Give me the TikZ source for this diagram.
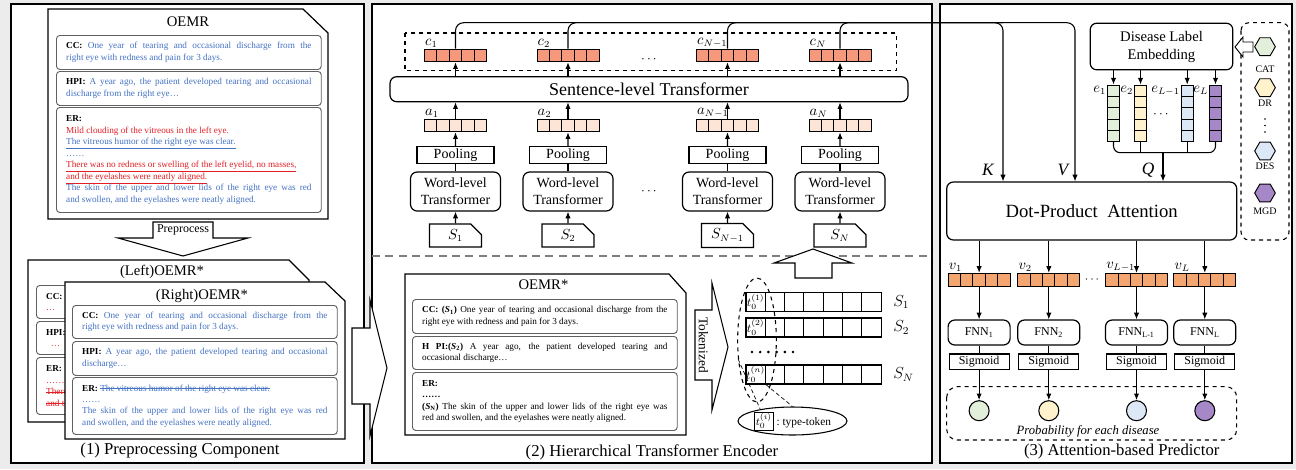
\documentclass[tikz,border=0pt]{standalone}
\usepackage{fontspec}
\setmainfont{Liberation Serif}
\usepackage{amsmath}
\usepackage{amssymb}
\usepackage{tikz}
\usetikzlibrary{arrows,arrows.meta,shapes,positioning}

\definecolor{bggray}{RGB}{236,236,236}
\definecolor{boxgray}{RGB}{96,96,96}
\definecolor{txtblue}{RGB}{68,114,196}
\definecolor{txtred}{RGB}{228,30,36}
\definecolor{cfill}{RGB}{245,152,124}
\definecolor{afill}{RGB}{252,228,214}
\definecolor{vfill}{RGB}{244,166,112}
\definecolor{dgreen}{RGB}{226,239,218}
\definecolor{dyellow}{RGB}{255,242,204}
\definecolor{dblue}{RGB}{221,232,246}
\definecolor{dpurple}{RGB}{166,136,200}

\newsavebox{\strkbox}
\newcommand{\strk}[1]{\sbox{\strkbox}{#1}\rlap{\rule[0.55ex]{\wd\strkbox}{0.35pt}}\usebox{\strkbox}}

\begin{document}
\begin{tikzpicture}[x=0.75pt, y=-0.75pt, >={Latex[length=5pt,width=4pt]}, line width=0.8pt,
    panel/.style={draw, fill=white, line width=1pt},
    doc/.style={draw, fill=white, line width=0.9pt},
    blockarrow/.style={draw, fill=white, line width=0.8pt},
    oemrbox/.style={draw=boxgray, line width=0.7pt, rounded corners=2.5pt, fill=white,
        anchor=north west, align=justify, text width=184pt, inner xsep=7.3pt, inner ysep=1pt,
        text=txtblue, font=\fontsize{6.9}{8.6}\selectfont},
    plainbox/.style={oemrbox, text=black},
    rbox/.style={draw, rounded corners=5pt, fill=white, align=center, inner sep=1pt, line width=0.9pt},
    sqbox/.style={draw, fill=white, inner sep=0pt, line width=0.9pt},
    cell/.style={draw, minimum width=9.3pt, minimum height=9.5pt, inner sep=0pt, line width=0.7pt},
    ecell/.style={draw, minimum width=8.7pt, minimum height=8.5pt, inner sep=0pt, line width=0.7pt},
    tcell/.style={draw, minimum width=14.5pt, minimum height=14.25pt, inner sep=0pt, line width=0.8pt},
    hexa/.style={draw, regular polygon, regular polygon sides=6, minimum size=15.5pt, inner sep=0pt, line width=0.7pt},
    prob/.style={draw, circle, minimum size=15pt, inner sep=0pt, line width=0.8pt},
    lab/.style={inner sep=0.5pt, font=\fontsize{10.5}{11}\selectfont},
    capt/.style={font=\fontsize{12.5}{14}\selectfont},
    doctitle/.style={font=\fontsize{11}{13}\selectfont},
    small/.style={font=\fontsize{9}{10}\selectfont}]

    \fill[bggray] (0,0) rectangle (1296,469);
    \useasboundingbox (0,0) rectangle (1296,469);

    % panels
    \draw[panel] (11,4) rectangle (364,463);
    \draw[panel] (372,4) rectangle (932,463);
    \draw[panel] (940,4) rectangle (1292,463);

    % (1) preprocessing component
    \draw[doc] (48,9) -- (303,9) -- (328,33) -- (328,219) -- (48,219) -- cycle;
    \node[doctitle] (oemr) at (188,22) {OEMR};
    \node[oemrbox, minimum height=25.5pt] (cc) at (56,35) {\textbf{\color{black}CC:} One year of tearing and occasional discharge from the \linebreak right eye with redness and pain for 3 days.};
    \node[oemrbox, minimum height=25.5pt] (hpi) at (56,71) {\textbf{\color{black}HPI:} A year ago, the patient developed tearing and occasional \linebreak discharge from the right eye…};
    \node[oemrbox, minimum height=78.75pt] (er) at (56,107) {\textbf{\color{black}ER:}\\
        {\color{txtred}Mild clouding of the vitreous in the left eye.}\\
        \underline{The vitreous humor of the right eye was clear.}\\
        ……\\
        {\color{txtred}\underline{There was no redness or swelling of the left eyelid, no masses,}}\\
        {\color{txtred}\underline{and the eyelashes were neatly aligned.}}\\
        The skin of the upper and lower lids of the right eye was red \linebreak and swollen, and the eyelashes were neatly aligned.};

    \draw[blockarrow] (153,222) -- (213,222) -- (213,238) -- (248,238) -- (183,256) -- (118,238) -- (153,238) -- cycle;
    \node[small] (prep) at (183,230) {Preprocess};

    \draw[doc] (28,260) -- (289,260) -- (309,280) -- (309,422) -- (28,422) -- cycle;
    \node[doctitle] (leftT) at (162,272) {(Left)OEMR*};
    \node[oemrbox, minimum height=24.75pt] (lcc) at (36,285) {\textbf{\color{black}CC:}\\ \color{txtred}…};
    \node[oemrbox, minimum height=24.75pt] (lhpi) at (36,321) {\textbf{\color{black}HPI:}\\ \color{txtred}\ \ …};
    \node[oemrbox, minimum height=42.75pt] (ler) at (36,357) {\textbf{\color{black}ER:}\\ \color{txtred}……\\ \strk{There}\\ \strk{and the}};

    \draw[doc] (65,282) -- (325,282) -- (345,301) -- (345,439) -- (65,439) -- cycle;
    \node[doctitle] (rightT) at (202,296) {(Right)OEMR*};
    \node[oemrbox, minimum height=24.75pt] (rcc) at (72,305) {\textbf{\color{black}CC:} One year of tearing and occasional discharge from the \linebreak right eye with redness and pain for 3 days.};
    \node[oemrbox, minimum height=25.5pt] (rhpi) at (72,341) {\textbf{\color{black}HPI:} A year ago, the patient developed tearing and occasional \linebreak discharge…};
    \node[oemrbox, minimum height=42.75pt] (rer) at (72,377) {\textbf{\color{black}ER:} \strk{The vitreous humor of the right eye was clear.}\\ ……\\ The skin of the upper and lower lids of the right eye was red \linebreak and swollen, and the eyelashes were neatly aligned.};

    \node[capt] (cap1) at (180,451) {(1) Preprocessing Component};

    \draw[blockarrow] (352,328) -- (370,328) -- (370,300) -- (387,368) -- (370,436) -- (370,404) -- (352,404) -- cycle;

    % (2) hierarchical transformer encoder
    \draw[dashed] (405,33) rectangle (896.5,70.7);
    \node[rbox, minimum width=388.5pt, minimum height=18.75pt, font=\fontsize{13.5}{15}\selectfont] (sent) at (649,89.2) {Sentence-level Transformer};

    \foreach \k/\x/\m in {1/455.5/1, 2/568/2, N1/727.5/N-1, N/840/N} {
        \foreach \i in {0,...,4} {
            \node[cell, fill=cfill] (c\k-\i) at (\x-24.8+12.4*\i, 55.5) {};
            \node[cell, fill=afill] (a\k-\i) at (\x-24.8+12.4*\i, 125.5) {};
        }
        \node[lab, anchor=south west] (lc\k) at (c\k-0.north west) {$c_{\m}$};
        \node[lab, anchor=south west] (la\k) at (a\k-0.north west) {$a_{\m}$};
        \node[sqbox, minimum width=57.75pt, minimum height=12.5pt, font=\fontsize{10.5}{12}\selectfont] (pool\k) at (\x,155) {Pooling};
        \node[rbox, minimum width=67.5pt, minimum height=29.25pt, font=\fontsize{10.5}{12.5}\selectfont] (word\k) at (\x,191.5) {Word-level\\Transformer};
        \node[sqbox, chamfered rectangle, chamfered rectangle corners=north east, chamfered rectangle sep=4pt, minimum width=39pt, minimum height=14.25pt, font=\fontsize{10.5}{12}\selectfont] (s\k) at (\x,235.5) {$S_{\m}$};
        \draw[->] (s\k) -- (word\k);
        \draw (word\k) -- (pool\k);
        \draw[->] (pool\k) -- (a\k-2);
        \draw[->] (a\k-2) -- (sent.south -| a\k-2);
        \draw[->] (sent.north -| c\k-2) -- (c\k-2);
    }
    \node (cdots) at (650,60) {$\cdots$};
    \node (wdots) at (650,192) {$\cdots$};

    \draw[dashed, gray, line width=1pt, dash pattern=on 6pt off 4pt] (372,256) -- (932,256);
    \draw[blockarrow] (795,278) -- (832,278) -- (832,263) -- (852,263) -- (813,249) -- (774,263) -- (795,263) -- cycle;

    \draw[doc] (405,274) -- (669,274) -- (686,293) -- (686,435) -- (405,435) -- cycle;
    \node[doctitle] (oemrs) at (543.5,285) {OEMR*};
    \node[plainbox, minimum height=25.5pt] (scc) at (412,299) {\textbf{CC: (\textit{S}\textsubscript{1})} One year of tearing and occasional discharge from the \linebreak right eye with redness and pain for 3 days.};
    \node[plainbox, minimum height=24.75pt] (shpi) at (412,336) {\textbf{H PI:(\textit{S}\textsubscript{2})} A year ago, the patient developed tearing and \linebreak occasional discharge…};
    \node[plainbox, minimum height=43.5pt] (ser) at (412,372) {\textbf{ER:}\\ \textbf{……}\\ \textbf{(\textit{S}\textsubscript{N})} The skin of the upper and lower lids of the right eye was \linebreak red and swollen, and the eyelashes were neatly aligned.};

    \draw[blockarrow] (695,310) -- (712,310) -- (712,283) -- (728,347) -- (712,410) -- (712,380) -- (695,380) -- cycle;
    \node[rotate=-90, font=\fontsize{10}{11}\selectfont] (tok) at (703.5,345) {Tokenized};

    \foreach \r/\y/\t in {1/302.2/1, 2/327.5/2, N/374.5/n} {
        \foreach \i in {0,...,6}
            \node[tcell] (r\r-\i) at (755.65+19.3*\i, \y) {};
        \node[font=\fontsize{9}{10}\selectfont, inner sep=0pt] (t\r) at (r\r-0) {$t_0^{(\t)}$};
        \node[right=5pt of r\r-6, font=\fontsize{12}{13}\selectfont] (sl\r) {$S_{\r}$};
    }
    \foreach \i in {0,...,5}
        \fill (752+8.2*\i, 352) circle (1.1pt);
    \node[draw, dashed, ellipse, minimum width=29pt, minimum height=93pt] (tokell) at (757,340) {};
    \node[draw, ellipse, minimum width=80pt, minimum height=21pt, inner sep=0pt, font=\fontsize{8.5}{9}\selectfont] (legend) at (792.5,421) {{\setlength{\fboxsep}{1pt}\fbox{$t_0^{(i)}$}}\ :\ type-token};
    \draw[densely dashed, line width=0.5pt] (tokell.225) -- (legend.160);
    \draw[densely dashed, line width=0.5pt] (rN-0.south east) -- (legend.north);

    \node[capt] (cap2) at (652,452) {(2) Hierarchical Transformer Encoder};

    % (3) attention-based predictor
    \node[rbox, minimum width=107pt, minimum height=35pt, font=\fontsize{11}{13.5}\selectfont] (dle) at (1161.5,46.5) {Disease Label\\Embedding};
    \node[rbox, minimum width=217.5pt, minimum height=43.5pt, font=\fontsize{14}{16}\selectfont] (attn) at (1091.7,211) {Dot-Product\ \ Attention};

    \foreach \k/\x/\col/\m in {1/1113.5/dgreen/1, 2/1140.5/dyellow/2, L1/1187.2/dblue/L-1, L/1215.5/dpurple/L} {
        \foreach \i in {0,...,4}
            \node[ecell, fill=\col] (e\k-\i) at (\x, 90.67+11.33*\i) {};
        \node[lab, anchor=east] (le\k) at (e\k-0.west) {$e_{\m}$};
        \draw[->] (dle.south -| e\k-0) -- (e\k-0);
    }
    \node (edots) at (1162,115) {$\cdots$};
    \coordinate (qm) at (1163,152.7);
    \draw[rounded corners=5pt] (e1-4.south) |- (qm) -| (eL-4.south);
    \draw (e2-4.south) -- (e2-4.south |- qm);
    \draw (eL1-4.south) -- (eL1-4.south |- qm);
    \draw[->] (qm) -- (attn.north -| qm);

    \node[font=\fontsize{13}{15}\selectfont\itshape] (klab) at (988,170) {K};
    \node[font=\fontsize{13}{15}\selectfont\itshape] (vlab) at (1063,170) {V};
    \node[font=\fontsize{13}{15}\selectfont\itshape] (qlab) at (1148,170) {Q};

    \draw[dashed, rounded corners=6pt] (1241,22.7) rectangle (1289,240);
    \foreach \d/\y/\ly/\col/\t in {cat/46.7/69/dgreen/CAT, dr/87.7/103/dyellow/DR, des/151/166.7/dblue/DES, mgd/193/211.7/dpurple/MGD} {
        \node[hexa, fill=\col] (\d) at (1265,\y) {};
        \node[font=\fontsize{7.5}{8}\selectfont] (l\d) at (1265,\ly) {\t};
    }
    \foreach \i in {0,1,2}
        \fill (1265, 119+6.5*\i) circle (0.7pt);
    \draw[blockarrow, line width=0.7pt] (1235,47) -- (1243,37) -- (1243,42) -- (1253,42) -- (1253,52) -- (1243,52) -- (1243,57) -- cycle;

    \foreach \k/\x/\m/\col in {1/979.1/1/dgreen, 2/1048.8/2/dyellow, L1/1136.5/L-1/dblue, L/1204.8/L/dpurple} {
        \foreach \i in {0,...,4}
            \node[cell, fill=vfill] (v\k-\i) at (\x-24.66+12.33*\i, 279.7) {};
        \node[lab, anchor=south west] (lv\k) at (v\k-0.north west) {$v_{\m}$};
        \node[rbox, minimum width=46.5pt, minimum height=18.75pt, small] (fnn\k) at (\x,332.5) {FNN\textsubscript{\m}};
        \node[sqbox, minimum width=45pt, minimum height=11.5pt, small] (sig\k) at (\x,361.7) {Sigmoid};
        \node[prob, fill=\col] (p\k) at (\x,410.7) {};
        \draw[->] (attn.south -| v\k-2) -- (v\k-2);
        \draw[->] (v\k-2) -- (fnn\k);
        \draw (fnn\k) -- (sig\k);
        \draw[->] (sig\k) -- (p\k);
    }
    \node[font=\fontsize{9}{10}\selectfont] (vdots) at (1093,280) {$\cdots$};
    \draw[dashed, rounded corners=8pt] (946.7,386.7) rectangle (1236.7,440);
    \node[font=\fontsize{9.5}{11}\selectfont\itshape] (probt) at (1088,431) {Probability for each disease};
    \node[capt] (cap3) at (1121.7,451.7) {(3) Attention-based Predictor};

    % encoder outputs to K and V
    \coordinate (topK) at (1003,22.7);
    \coordinate (topV) at (1075,22.7);
    \draw[->, rounded corners=6pt] (c1-2.north) |- (topK) -- (attn.north -| topK);
    \draw[rounded corners=6pt] (c2-2.north) |- (topK);
    \draw[rounded corners=6pt] (cN1-2.north) |- (topK);
    \draw[->, rounded corners=6pt] (cN-2.north) |- (topV) -- (attn.north -| topV);
\end{tikzpicture}
\end{document}
